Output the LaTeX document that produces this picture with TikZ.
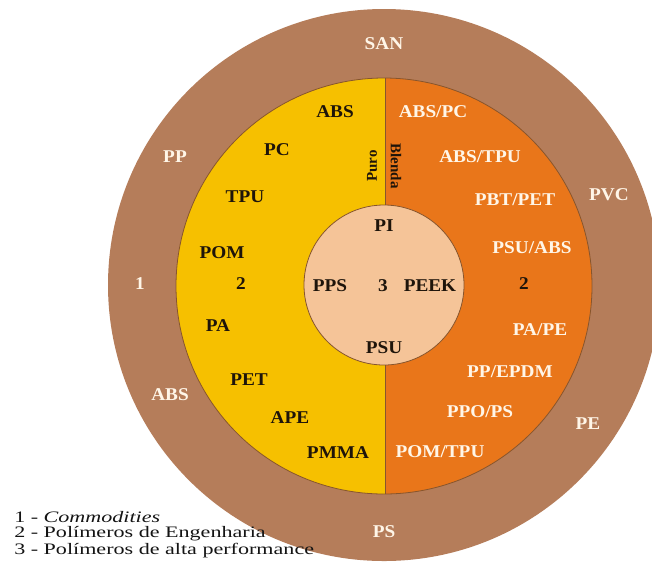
\documentclass[tikz,border=0pt]{standalone}
\usepackage{fontspec}
\setmainfont{Liberation Serif}

\definecolor{ringbrown}{RGB}{181,125,90}
\definecolor{edgebrown}{RGB}{135,85,45}
\definecolor{puroyellow}{RGB}{246,192,0}
\definecolor{blendorange}{RGB}{233,118,26}
\definecolor{corepeach}{RGB}{245,196,152}
\definecolor{labelwhite}{RGB}{255,246,232}
\definecolor{labeldark}{RGB}{30,20,10}

\tikzset{
  lab/.style={font=\fontsize{18}{20}\selectfont\bfseries, inner sep=0pt, xscale=1.07},
  darklab/.style={lab, text=labeldark},
  lightlab/.style={lab, text=labelwhite},
  sidelab/.style={font=\fontsize{15}{17}\selectfont\bfseries, text=labeldark, inner sep=0pt},
  legend/.style={font=\fontsize{16}{17}\selectfont, anchor=west, inner sep=0pt,
    text=black!92, xscale=1.38},
  ringedge/.style={draw=edgebrown, line width=0.8pt},
}

\begin{document}
\begin{tikzpicture}[x=1pt,y=-1pt]
\useasboundingbox (0,0) rectangle (652,566);
\clip (0,0) rectangle (652,566);

% outer ring: commodities
\fill[ringbrown] (384,285) circle[radius=276pt];

% middle ring, split into pure polymers and blends
\begin{scope}
  \clip (384,286) circle[radius=208pt];
  \fill[puroyellow] (0,0) rectangle (385,566);
  \fill[blendorange] (385,0) rectangle (652,566);
\end{scope}
\draw[ringedge] (384,286) circle[radius=208pt];
\draw[ringedge] (385,78) -- (385,494);

% core: high performance polymers
\fill[corepeach] (384,285) circle[radius=80pt];
\draw[ringedge] (384,285) circle[radius=80pt];

% outer ring labels
\node[lightlab] (san)  at (384,44)  {SAN};
\node[lightlab] (pp)   at (175,157) {PP};
\node[lightlab] (pvc)  at (609,195) {PVC};
\node[lightlab] (one)  at (140,284) {1};
\node[lightlab] (absO) at (170,395) {ABS};
\node[lightlab] (pe)   at (588,424) {PE};
\node[lightlab] (ps)   at (384,532) {PS};

% pure engineering polymers
\node[darklab] (absP) at (335,112) {ABS};
\node[darklab] (pc)   at (277,150) {PC};
\node[darklab] (tpu)  at (245,197) {TPU};
\node[darklab] (pom)  at (222,253) {POM};
\node[darklab] (twoL) at (241,284) {2};
\node[darklab] (pa)   at (218,326) {PA};
\node[darklab] (pet)  at (249,380) {PET};
\node[darklab] (ape)  at (290,418) {APE};
\node[darklab] (pmma) at (338,453) {PMMA};
\node[sidelab, rotate=90]  (puro)   at (372,166) {Puro};
\node[sidelab, rotate=-90] (blenda) at (396,166) {Blenda};

% blends
\node[lightlab] (abspc)  at (433,112) {ABS/PC};
\node[lightlab] (abstpu) at (480,157) {ABS/TPU};
\node[lightlab] (pbtpet) at (515,200) {PBT/PET};
\node[lightlab] (psuabs) at (532,248) {PSU/ABS};
\node[darklab]  (twoR)   at (524,284) {2};
\node[lightlab] (pape)   at (540,330) {PA/PE};
\node[lightlab] (ppepdm) at (510,372) {PP/EPDM};
\node[lightlab] (ppops)  at (480,412) {PPO/PS};
\node[lightlab] (pomtpu) at (440,452) {POM/TPU};

% core labels
\node[darklab] (pi)    at (384,226) {PI};
\node[darklab] (pps)   at (330,286) {PPS};
\node[darklab] (three) at (383,286) {3};
\node[darklab] (peek)  at (430,286) {PEEK};
\node[darklab] (psu)   at (384,348) {PSU};

% legend
\node[legend] (leg1) at (14,517) {1 - \textit{Commodities}};
\node[legend] (leg2) at (14,534) {2 - Polímeros de Engenharia};
\node[legend] (leg3) at (14,551) {3 - Polímeros de alta performance};
\end{tikzpicture}
\end{document}
